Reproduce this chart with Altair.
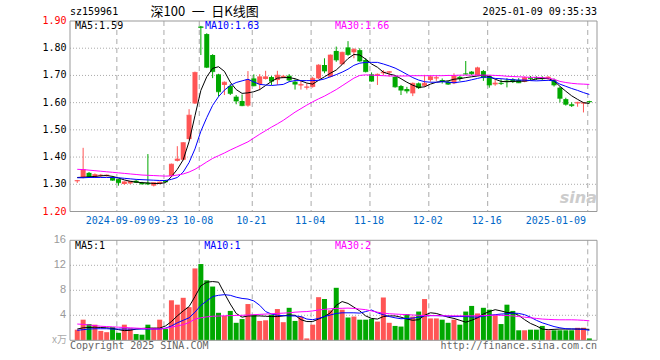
import altair as alt
import pandas as pd

# ---------------- data ----------------
opens = [1.311, 1.326, 1.342, 1.327, 1.331, 1.331, 1.326, 1.319, 1.301, 1.303,
         1.313, 1.306, 1.305, 1.295, 1.302, 1.313, 1.330, 1.386, 1.390, 1.466,
         1.597, 1.880, 1.852, 1.775, 1.704, 1.665, 1.661, 1.622, 1.606, 1.589,
         1.689, 1.668, 1.687, 1.694, 1.683, 1.692, 1.699, 1.677, 1.663, 1.655,
         1.658, 1.689, 1.738, 1.695, 1.790, 1.741, 1.803, 1.785, 1.793, 1.757,
         1.704, 1.699, 1.708, 1.710, 1.695, 1.661, 1.650, 1.634, 1.671, 1.662,
         1.683, 1.689, 1.683, 1.677, 1.671, 1.695, 1.707, 1.714, 1.701, 1.716,
         1.698, 1.667, 1.673, 1.681, 1.686, 1.683, 1.677, 1.692, 1.694, 1.692,
         1.689, 1.683, 1.655, 1.613, 1.594, 1.597, 1.597, 1.606]
highs = [1.316, 1.434, 1.345, 1.340, 1.338, 1.336, 1.330, 1.320, 1.311, 1.312,
         1.316, 1.309, 1.411, 1.307, 1.310, 1.316, 1.376, 1.440, 1.455, 1.576,
         1.714, 1.882, 1.855, 1.778, 1.706, 1.678, 1.668, 1.628, 1.630, 1.716,
         1.704, 1.705, 1.717, 1.698, 1.717, 1.702, 1.705, 1.686, 1.683, 1.671,
         1.695, 1.741, 1.763, 1.777, 1.806, 1.787, 1.826, 1.800, 1.800, 1.763,
         1.711, 1.707, 1.720, 1.716, 1.699, 1.665, 1.658, 1.674, 1.674, 1.702,
         1.699, 1.698, 1.689, 1.680, 1.708, 1.699, 1.753, 1.716, 1.732, 1.720,
         1.701, 1.683, 1.686, 1.690, 1.690, 1.690, 1.696, 1.698, 1.697, 1.697,
         1.697, 1.689, 1.659, 1.618, 1.601, 1.603, 1.602, 1.607]
lows = [1.305, 1.322, 1.324, 1.323, 1.327, 1.328, 1.313, 1.295, 1.298, 1.300,
        1.305, 1.300, 1.297, 1.292, 1.300, 1.308, 1.328, 1.384, 1.388, 1.464,
        1.595, 1.775, 1.727, 1.690, 1.622, 1.628, 1.628, 1.594, 1.587, 1.585,
        1.660, 1.646, 1.685, 1.665, 1.665, 1.690, 1.677, 1.648, 1.648, 1.648,
        1.655, 1.687, 1.708, 1.693, 1.750, 1.739, 1.772, 1.763, 1.750, 1.711,
        1.677, 1.665, 1.700, 1.696, 1.655, 1.628, 1.634, 1.624, 1.650, 1.658,
        1.677, 1.680, 1.670, 1.665, 1.668, 1.680, 1.703, 1.701, 1.699, 1.680,
        1.655, 1.662, 1.665, 1.656, 1.672, 1.672, 1.675, 1.683, 1.683, 1.680,
        1.683, 1.659, 1.601, 1.589, 1.584, 1.585, 1.564, 1.598]
closes = [1.314, 1.354, 1.327, 1.336, 1.334, 1.334, 1.315, 1.306, 1.309, 1.311,
          1.307, 1.301, 1.301, 1.306, 1.308, 1.309, 1.374, 1.393, 1.453, 1.554,
          1.711, 1.876, 1.730, 1.714, 1.640, 1.675, 1.634, 1.606, 1.589, 1.683,
          1.662, 1.695, 1.695, 1.679, 1.701, 1.697, 1.683, 1.668, 1.667, 1.658,
          1.689, 1.738, 1.716, 1.775, 1.757, 1.785, 1.777, 1.796, 1.753, 1.714,
          1.679, 1.704, 1.712, 1.714, 1.658, 1.646, 1.643, 1.671, 1.655, 1.671,
          1.695, 1.692, 1.679, 1.668, 1.698, 1.689, 1.705, 1.706, 1.728, 1.692,
          1.665, 1.672, 1.670, 1.677, 1.677, 1.673, 1.692, 1.688, 1.690, 1.688,
          1.694, 1.665, 1.616, 1.594, 1.589, 1.601, 1.600, 1.603]
volumes = [1.7, 3.3, 2.6, 2.5, 1.5, 1.3, 2.1, 1.2, 2.5, 1.9,
           1.0, 0.9, 2.5, 2.0, 3.3, 1.8, 6.4, 5.7, 6.8, 5.3,
           11.5, 12.2, 9.6, 8.6, 4.4, 3.9, 4.7, 2.8, 3.4, 5.8,
           4.1, 3.1, 3.2, 4.1, 5.0, 2.9, 5.2, 3.1, 3.8, 0.3,
           2.5, 6.9, 6.6, 4.8, 8.4, 4.9, 3.65, 3.8, 3.3, 3.3,
           3.45, 3.0, 6.85, 2.8, 2.3, 2.2, 4.2, 3.8, 4.6, 6.6,
           3.5, 3.5, 3.3, 2.8, 3.3, 2.5, 4.6, 5.5, 4.3, 5.2,
           4.9, 4.0, 2.6, 5.7, 4.7, 1.6, 1.6, 1.7, 1.7, 2.3,
           1.6, 1.6, 1.6, 1.6, 1.6, 2.0, 2.0, 0.3]
ma5 = [1.325, 1.326, 1.327, 1.329, 1.331, 1.332, 1.329, 1.323, 1.316, 1.311,
       1.308, 1.306, 1.305, 1.303, 1.303, 1.306, 1.328, 1.355, 1.390, 1.457,
       1.552, 1.645, 1.695, 1.726, 1.732, 1.715, 1.675, 1.648, 1.634, 1.636,
       1.640, 1.648, 1.663, 1.678, 1.690, 1.692, 1.692, 1.688, 1.680, 1.672,
       1.668, 1.682, 1.695, 1.708, 1.720, 1.740, 1.762, 1.777, 1.775, 1.760,
       1.742, 1.730, 1.712, 1.705, 1.700, 1.688, 1.675, 1.664, 1.656, 1.658,
       1.668, 1.675, 1.678, 1.680, 1.686, 1.688, 1.692, 1.695, 1.698, 1.701,
       1.696, 1.686, 1.678, 1.677, 1.678, 1.679, 1.679, 1.682, 1.687, 1.689,
       1.689, 1.680, 1.660, 1.642, 1.625, 1.612, 1.600, 1.597]
ma10 = [1.324, 1.324, 1.325, 1.325, 1.325, 1.325, 1.325, 1.324, 1.322, 1.320,
        1.318, 1.317, 1.316, 1.315, 1.314, 1.314, 1.318, 1.325, 1.345, 1.380,
        1.430, 1.495, 1.545, 1.590, 1.622, 1.646, 1.663, 1.674, 1.680, 1.686,
        1.676, 1.667, 1.665, 1.663, 1.665, 1.667, 1.677, 1.681, 1.681, 1.681,
        1.681, 1.682, 1.687, 1.695, 1.703, 1.712, 1.723, 1.737, 1.745, 1.748,
        1.748, 1.748, 1.742, 1.735, 1.727, 1.716, 1.704, 1.692, 1.683, 1.677,
        1.675, 1.675, 1.677, 1.675, 1.673, 1.676, 1.679, 1.684, 1.689, 1.694,
        1.693, 1.689, 1.688, 1.686, 1.684, 1.683, 1.683, 1.681, 1.680, 1.681,
        1.682, 1.680, 1.668, 1.660, 1.652, 1.645, 1.637, 1.630]
ma30 = [1.355, 1.354, 1.352, 1.350, 1.348, 1.346, 1.344, 1.342, 1.340, 1.338,
        1.336, 1.334, 1.333, 1.332, 1.331, 1.330, 1.331, 1.334, 1.338, 1.345,
        1.355, 1.368, 1.382, 1.395, 1.405, 1.415, 1.426, 1.436, 1.446, 1.456,
        1.470, 1.484, 1.497, 1.510, 1.522, 1.535, 1.550, 1.565, 1.578, 1.591,
        1.603, 1.614, 1.624, 1.636, 1.648, 1.662, 1.676, 1.690, 1.700, 1.702,
        1.701, 1.700, 1.699, 1.698, 1.698, 1.698, 1.698, 1.699, 1.699, 1.699,
        1.699, 1.699, 1.699, 1.700, 1.700, 1.701, 1.701, 1.701, 1.701, 1.701,
        1.701, 1.700, 1.699, 1.697, 1.696, 1.695, 1.694, 1.693, 1.693, 1.692,
        1.690, 1.686, 1.678, 1.674, 1.671, 1.669, 1.668, 1.667]
vma5 = [1.8, 2.0, 2.05, 2.1, 2.05, 2.0, 1.9, 1.7, 1.55, 1.6,
        1.8, 1.9, 1.95, 1.95, 1.95, 2.3, 3.0, 3.9, 4.7, 5.4,
        7.0, 8.7, 9.3, 9.4, 9.3, 7.5, 5.8, 4.3, 3.7, 3.9,
        3.9, 3.9, 3.85, 3.8, 3.8, 3.9, 4.05, 4.0, 3.3, 3.0,
        3.0, 3.4, 3.8, 4.4, 5.6, 6.2, 5.9, 5.3, 4.7, 3.9,
        3.5, 3.4, 3.8, 3.9, 3.9, 3.7, 3.4, 3.2, 3.3, 4.0,
        4.4, 4.3, 4.0, 3.7, 3.5, 3.2, 2.9, 3.2, 3.6, 4.2,
        4.6, 4.9, 4.7, 4.45, 4.4, 4.0, 3.3, 2.7, 2.3, 1.8,
        1.7, 1.75, 1.8, 1.8, 1.8, 1.8, 1.8, 1.75]
vma10 = [1.6, 1.7, 1.8, 1.85, 1.85, 1.85, 1.8, 1.8, 1.8, 1.8,
         1.8, 1.8, 1.8, 1.8, 1.8, 1.95, 2.3, 2.8, 3.2, 3.6,
         4.5, 5.6, 6.3, 7.0, 7.2, 7.3, 7.2, 6.9, 6.7, 6.6,
         6.3, 5.6, 4.6, 4.2, 4.0, 3.95, 3.9, 3.9, 3.8, 3.4,
         3.3, 3.5, 3.8, 4.05, 4.3, 4.4, 4.4, 4.4, 4.35, 4.6,
         4.85, 4.4, 4.1, 3.8, 3.6, 3.45, 3.5, 3.55, 3.7, 3.9,
         3.95, 3.95, 3.92, 3.85, 3.8, 3.8, 3.8, 3.75, 3.7, 3.85,
         4.0, 4.1, 4.2, 4.25, 4.35, 4.3, 4.1, 3.7, 3.2, 2.8,
         2.5, 2.2, 2.0, 1.85, 1.82, 1.8, 1.75, 1.6]
vma30 = [2.6, 2.55, 2.45, 2.35, 2.25, 2.2, 2.15, 2.1, 2.05, 2.0,
         1.95, 1.9, 1.85, 1.82, 1.8, 1.9, 2.1, 2.3, 2.5, 2.85,
         3.4, 3.6, 3.75, 3.85, 3.88, 3.92, 3.95, 3.97, 4.0, 4.05,
         4.1, 4.15, 4.2, 4.25, 4.3, 4.35, 4.4, 4.5, 4.56, 4.6,
         4.7, 4.85, 4.95, 5.05, 5.1, 5.12, 5.15, 5.1, 5.0, 4.9,
         4.7, 4.5, 4.35, 4.25, 4.2, 4.15, 4.1, 4.05, 4.0, 3.97,
         3.95, 3.95, 3.93, 3.92, 3.92, 3.92, 3.92, 3.92, 3.92, 3.95,
         4.0, 4.02, 4.0, 3.97, 3.9, 3.8, 3.7, 3.6, 3.5, 3.4,
         3.35, 3.3, 3.28, 3.28, 3.28, 3.25, 3.2, 3.12]

date_idx = [7, 15, 21, 30, 40, 50, 60, 70]
date_labels = ["2024-09-09", "09-23", "10-08", "10-21", "11-04", "11-18", "12-02", "12-16"]
last_idx = [87]
last_label = ["2025-01-09"]
price_ticks = [1.90, 1.80, 1.70, 1.60, 1.50, 1.40, 1.30, 1.20]
price_grid = [1.80, 1.70, 1.60, 1.50, 1.40, 1.30]
vol_ticks = [16, 12, 8, 4]
vol_grid = [12, 8, 4]

# ---------------- layout constants ----------------
W, H = 527, 320
RED, GREEN = "#ff5555", "#00a800"
GRID = "#aaaaaa"
BORDER = "#999999"
MONO = "DejaVu Sans Mono"

df = pd.DataFrame({
    "i": list(range(len(closes))), "open": opens, "high": highs, "low": lows,
    "close": closes, "vol": volumes, "ma5": ma5, "ma10": ma10, "ma30": ma30,
    "vma5": vma5, "vma10": vma10, "vma30": vma30,
})

xs = alt.Scale(domain=[-0.383, 87.45], nice=False, zero=False)
ps = dict(domain=[1.2, 1.9], range=[191.5, 1.0], nice=False, zero=False)
vs = dict(domain=[0, 16], range=[320.3, 220.3], nice=False, zero=False)


def X(field="i"):
    return alt.X(f"{field}:Q", scale=xs, axis=None)


def PY(field):
    return alt.Y(f"{field}:Q", scale=alt.Scale(**ps), axis=None)


def VY(field):
    return alt.Y(f"{field}:Q", scale=alt.Scale(**vs), axis=None)


def PD(v):
    return alt.YDatum(v, scale=alt.Scale(**ps), axis=None)


def VD(v):
    return alt.YDatum(v, scale=alt.Scale(**vs), axis=None)


color = alt.Color("dir:N", scale=alt.Scale(domain=["up", "down"], range=[RED, GREEN]), legend=None)
base = alt.Chart(df).transform_calculate(dir="datum.close >= datum.open ? 'up' : 'down'")
one = pd.DataFrame({"a": [0]})

# grids
pgrid = alt.Chart(pd.DataFrame({"p": price_grid})).mark_rule(
    color=GRID, strokeDash=[1, 2], strokeWidth=1).encode(
    y=PY("p"), x=alt.value(0), x2=alt.value(W))
vgrid = alt.Chart(pd.DataFrame({"v": vol_grid})).mark_rule(
    color=GRID, strokeDash=[1, 2], strokeWidth=1).encode(
    y=VY("v"), x=alt.value(0), x2=alt.value(W))
all_idx = pd.DataFrame({"i": date_idx + last_idx})
pvert = alt.Chart(all_idx).mark_rule(color=GRID, strokeDash=[5, 4], xOffset=-1.6).encode(
    x=X(), y=PD(1.9), y2=alt.Y2Datum(1.2))
vvert = alt.Chart(all_idx).mark_rule(color=GRID, strokeDash=[5, 4], xOffset=-1.6).encode(
    x=X(), y=VD(16), y2=alt.Y2Datum(0))
pborder = alt.Chart(one).mark_rect(fillOpacity=0, stroke=BORDER, strokeWidth=1).encode(
    x=alt.value(0), x2=alt.value(W), y=PD(1.9), y2=alt.Y2Datum(1.2))
vborder = alt.Chart(one).mark_rect(fillOpacity=0, stroke=BORDER, strokeWidth=1).encode(
    x=alt.value(0), x2=alt.value(W), y=VD(16), y2=alt.Y2Datum(0))

# volume
vbars = base.mark_bar(size=5).encode(x=X(), y=VY("vol"), color=color)
vl5 = base.mark_line(color="black", strokeWidth=1).encode(x=X(), y=VY("vma5"))
vl10 = base.mark_line(color="#0000ff", strokeWidth=1).encode(x=X(), y=VY("vma10"))
vl30 = base.mark_line(color="#ff00ff", strokeWidth=1).encode(x=X(), y=VY("vma30"))

# candles
wicks = base.mark_rule(strokeWidth=1).encode(x=X(), y=PY("low"), y2=alt.Y2("high"), color=color)
bodies = base.mark_bar(size=5).encode(x=X(), y=PY("open"), y2=alt.Y2("close"), color=color)
cticks = base.mark_tick(orient="horizontal", size=5, thickness=1).encode(x=X(), y=PY("close"), color=color)
l5 = base.mark_line(color="black", strokeWidth=1).encode(x=X(), y=PY("ma5"))
l10 = base.mark_line(color="#0000ff", strokeWidth=1).encode(x=X(), y=PY("ma10"))
l30 = base.mark_line(color="#ff00ff", strokeWidth=1).encode(x=X(), y=PY("ma30"))

# axis labels
plabels = alt.Chart(pd.DataFrame({"p": price_ticks})).mark_text(
    align="right", baseline="middle", font=MONO, fontSize=10, dx=-3.5).encode(
    x=alt.value(0), y=PY("p"), text=alt.Text("p:Q", format=".2f"),
    color=alt.condition(alt.FieldOneOfPredicate(field="p", oneOf=[1.9, 1.2]),
                        alt.value("#ff0000"), alt.value("#000000")))
vlabels = alt.Chart(pd.DataFrame({"v": vol_ticks})).mark_text(
    align="right", baseline="middle", font="Liberation Sans", fontSize=11, dx=-4, color="#999999").encode(
    x=alt.value(0), y=VY("v"), text=alt.Text("v:Q"))
unit = alt.Chart(one).mark_text(align="right", baseline="middle", font="Noto Sans CJK SC",
                                fontSize=10, color="#aaaaaa", text="x万").encode(
    x=alt.value(-3), y=alt.value(319.5))

dlabels = alt.Chart(pd.DataFrame({"i": date_idx, "t": date_labels})).mark_text(
    align="center", baseline="middle", font=MONO, fontSize=10, color="#0068c8", dx=-2.6).encode(
    x=X(), y=alt.value(201.3), text="t:N")
dlast = alt.Chart(pd.DataFrame({"i": last_idx, "t": last_label})).mark_text(
    align="right", baseline="middle", font=MONO, fontSize=10, color="#0068c8", dx=-3.3).encode(
    x=X(), y=alt.value(201.3), text="t:N")


def label(text, x, y, col, align="left", font=MONO, size=10, **kw):
    return alt.Chart(one).mark_text(align=align, baseline="middle", font=font, fontSize=size,
                                    color=col, text=text, **kw).encode(x=alt.value(x), y=alt.value(y))


texts = [
    label("sz159961", 0, -8, "#000000"),
    label("深100\u2002一\u2002日K线图", 80.6, -8, "#000000", font="Noto Sans CJK SC", size=13),
    label("2025-01-09 09:35:33", W, -8, "#000000", align="right"),
    label("MA5:1.59", 5, 6, "#000000"),
    label("MA10:1.63", 135, 6, "#0000ff"),
    label("MA30:1.66", 265, 6, "#ff00ff"),
    label("MA5:1", 5, 226, "#000000"),
    label("MA10:1", 134.3, 226, "#0000ff"),
    label("MA30:2", 265, 226, "#ff00ff"),
    label("Copyright 2025 SINA.COM", 0, 326.3, "#666666"),
    label("http://finance.sina.com.cn", W, 326.3, "#666666", align="right"),
    label("sina", W, 178, "#cccccc", align="right", font="DejaVu Sans", size=16,
          fontStyle="italic", fontWeight="bold"),
]

chart = alt.layer(
    pgrid, vgrid, pvert, vvert,
    vbars, vl5, vl10, vl30,
    wicks, bodies, cticks, l5, l10, l30,
    pborder, vborder,
    plabels, vlabels, unit, dlabels, dlast, *texts,
).resolve_scale(y="independent").properties(
    width=W, height=H,
    autosize=alt.AutoSizeParams(type="none"),
    padding={"left": 70, "top": 20, "right": 63, "bottom": 20},
    background="white",
).configure_view(stroke=None)

chart.save("out.html", embed_options={"renderer": "svg", "actions": False})
